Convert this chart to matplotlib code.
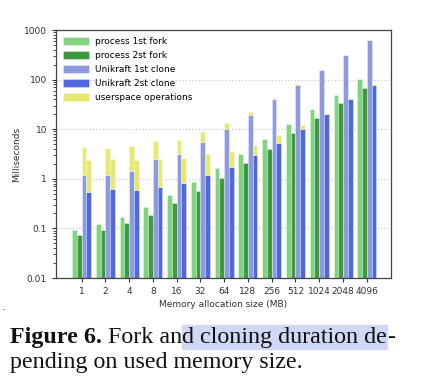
import numpy as np
import matplotlib.pyplot as plt
from matplotlib.patches import Rectangle

sizes = ["1", "2", "4", "8", "16", "32", "64", "128", "256", "512", "1024", "2048", "4096"]
proc_fork1 = [0.091, 0.12, 0.17, 0.27, 0.475, 0.88, 1.64, 3.19, 6.4, 12.7, 25.8, 50, 102]
proc_fork2 = [0.075, 0.094, 0.128, 0.19, 0.32, 0.58, 1.05, 2.07, 4.0, 8.3, 16.7, 33, 67]
uni_clone1 = [1.17, 1.17, 1.47, 2.45, 3.19, 5.6, 10.0, 19.5, 39.7, 78.5, 158, 316, 630]
uni_clone2 = [0.55, 0.61, 0.60, 0.67, 0.83, 1.2, 1.72, 2.95, 5.3, 10.0, 19.8, 39.7, 78.5]
user_ops1 = [3.2, 3.0, 3.1, 3.2, 2.9, 3.1, 3.4, 3.2, 2.3, 1.5, 0, 0, 0]
user_ops2 = [1.8, 1.85, 1.8, 1.8, 1.8, 1.9, 1.85, 1.85, 2.2, 2.3, 1.7, 2.3, 1.5]

c_p1 = "#80d480"
c_p2 = "#3f9a3f"
c_u1 = "#8c9be0"
c_u2 = "#4f68e0"
c_us = "#e8e870"

fig = plt.figure(figsize=(4.32, 3.78), dpi=100)
ax = fig.add_axes([56 / 432, 1 - 278 / 378, 335 / 432, 248 / 378])

x = np.arange(len(sizes))
w = 0.2
ekw = dict(edgecolor=(1, 1, 1, 0.45), linewidth=0.5)
ax.bar(x - 1.5 * w, proc_fork1, w, color=c_p1, label="process 1st fork", **ekw)
ax.bar(x - 0.5 * w, proc_fork2, w, color=c_p2, label="process 2st fork", **ekw)
ax.bar(x + 0.5 * w, uni_clone1, w, color=c_u1, label="Unikraft 1st clone", **ekw)
ax.bar(x + 1.5 * w, uni_clone2, w, color=c_u2, label="Unikraft 2st clone", **ekw)
ax.bar(x + 0.5 * w, user_ops1, w, bottom=uni_clone1, color=c_us, label="userspace operations", **ekw)
ax.bar(x + 1.5 * w, user_ops2, w, bottom=uni_clone2, color=c_us, **ekw)

ax.set_yscale("log")
ax.set_ylim(0.01, 1000)
ax.set_xlim(-1.08, 13.02)
ax.set_yticks([0.01, 0.1, 1, 10, 100, 1000])
ax.set_yticklabels(["0.01", "0.1", "1", "10", "100", "1000"])
ax.set_xticks(x)
ax.set_xticklabels(sizes)
ax.tick_params(labelsize=6.5, colors="#333333", length=3, width=0.8)
ax.tick_params(axis="y", which="minor", length=2, width=0.6, colors="#333333")
ax.yaxis.grid(True, which="major", linestyle=":", color="#cccccc", linewidth=0.9)
ax.set_axisbelow(True)
for s in ax.spines.values():
    s.set_color("#444444")
    s.set_linewidth(0.9)

ax.set_ylabel("Milliseconds", fontsize=6.5, color="#333333", labelpad=2)
ax.set_xlabel("Memory allocation size (MB)", fontsize=6.5, color="#333333", labelpad=3)

ax.legend(loc="upper left", fontsize=6.5, frameon=False, handlelength=2.8, handleheight=0.9,
          labelspacing=0.55, borderaxespad=0.4, handletextpad=0.7)

# caption below the chart, pieces chained left to right
fig.text(0.005, 1 - 307 / 378, ".", fontsize=8, color="#333333", va="center")
r = fig.canvas.get_renderer()
cap = dict(fontsize=17.3, family="Liberation Serif", va="baseline", color="#111111")
y1 = 1 - 343 / 378
y2 = 1 - 368 / 378
xpos = 10 / 432
pieces = [("Figure 6.", "bold"), (" Fork an", "normal"), ("d cloning duration de", "normal"), ("-", "normal")]
for i, (txt, wt) in enumerate(pieces):
    t = fig.text(xpos, y1, txt, weight=wt, **cap)
    bb = t.get_window_extent(r)
    if i == 2:
        fig.patches.append(Rectangle((bb.x0 / 432, 1 - 349 / 378), bb.width / 432, 24 / 378,
                                     transform=fig.transFigure, color="#d0d8f6", zorder=0))
    xpos = bb.x1 / 432
fig.text(10 / 432, y2, "pending on used memory size.", **cap)

fig.savefig("out.png", dpi=100)
